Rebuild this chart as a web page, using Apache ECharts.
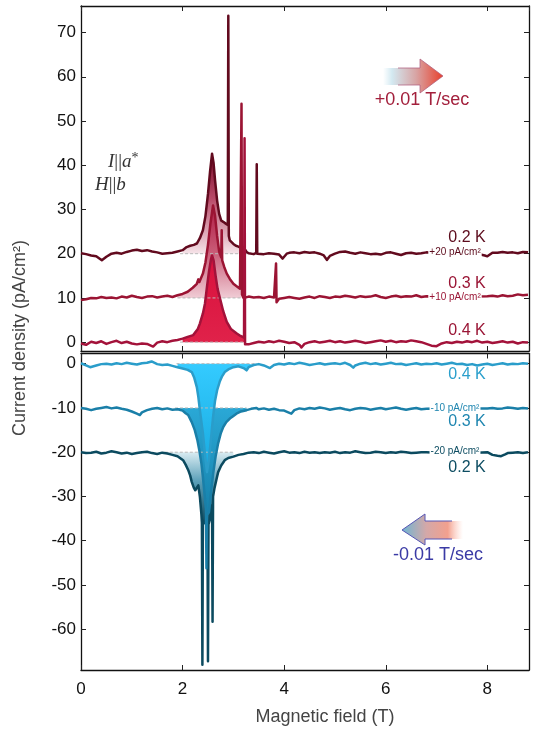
<!DOCTYPE html>
<html>
<head>
<meta charset="utf-8">
<script src="https://cdn.jsdelivr.net/npm/echarts@6/dist/echarts.min.js"></script>
<style>
html,body{margin:0;padding:0;background:#fff;}
#chart{width:534px;height:732px;}
</style>
</head>
<body>
<div id="chart"></div>
<script>
// ---------- DATA ----------
const xTicks = [0, 2, 4, 6, 8];
const yTicksUp = [0, 10, 20, 30, 40, 50, 60, 70];
const yTicksDown = [-60, -50, -40, -30, -20, -10, 0];
const offsetsUp = [20, 10, 0];        // 0.2 K, 0.3 K, 0.4 K
const offsetsDown = [0, -10, -20];    // 0.4 K, 0.3 K, 0.2 K

// sweep up (+0.01 T/sec), 0.2 K, offset +20
const up02 = [[0.0,20.1],[0.1,19.9],[0.2,19.6],[0.3,19.4],[0.41,18.5],[0.5,19.3],[0.6,20.0],[0.7,20.2],[0.8,20.0],[0.9,20.4],
[1.0,20.7],[1.1,20.9],[1.2,20.6],[1.3,20.8],[1.4,20.5],[1.5,20.3],[1.6,20.0],[1.7,20.1],[1.8,20.2],[1.9,20.5],
[2.0,20.8],[2.08,21.5],[2.15,21.8],[2.22,22.0],[2.28,22.3],[2.34,23.5],[2.4,25.3],[2.45,28.5],[2.5,33.5],[2.54,38.5],
[2.58,42.6],[2.61,40.5],[2.64,36.5],[2.68,32.0],[2.72,29.0],[2.76,27.5],[2.8,27.2],[2.85,26.8],[2.89,26.5],[2.9,73.8],
[2.91,24.0],[2.93,23.0],[3.0,22.2],[3.05,21.8],[3.1,21.6],[3.15,21.3],[3.2,21.5],[3.26,20.4],[3.3,20.1],[3.4,19.9],
[3.45,20.2],[3.46,40.2],[3.47,20.0],[3.5,19.6],[3.6,19.9],[3.7,20.1],[3.8,20.0],[3.9,19.8],[3.97,18.9],[4.05,20.0],
[4.1,20.2],[4.2,20.3],[4.3,20.1],[4.4,20.4],[4.5,20.2],[4.6,20.3],[4.7,20.0],[4.78,19.6],[4.84,18.6],[4.9,19.5],
[5.0,20.0],[5.1,20.4],[5.2,20.5],[5.3,20.2],[5.4,20.0],[5.5,20.3],[5.6,20.1],[5.7,19.9],[5.8,20.0],[5.9,19.8],
[6.0,20.2],[6.1,20.3],[6.2,20.0],[6.3,19.7],[6.4,20.1],[6.5,20.2],[6.6,20.0],[6.7,20.1],[6.8,20.3],[7.0,20.1],
[7.2,20.0],[7.4,20.2],[7.6,20.1],[7.8,20.0],[7.95,19.6],[8.0,19.4],[8.1,20.2],[8.2,20.2],[8.3,20.4],[8.4,20.2],
[8.5,20.3],[8.6,20.1],[8.7,20.4],[8.8,20.3]];

// sweep up, 0.3 K, offset +10
const up03 = [[0.0,9.5],[0.1,9.7],[0.2,10.0],[0.3,9.9],[0.4,10.2],[0.5,10.0],[0.6,10.1],[0.7,9.9],[0.8,10.3],[0.9,10.1],
[1.0,10.5],[1.1,10.2],[1.2,10.0],[1.3,10.3],[1.4,10.4],[1.5,10.1],[1.6,10.3],[1.7,10.5],[1.8,10.2],[1.9,10.6],
[2.0,10.9],[2.1,11.4],[2.2,12.3],[2.28,13.2],[2.31,14.2],[2.33,13.6],[2.4,15.5],[2.45,18.0],[2.5,22.0],[2.55,27.0],
[2.6,30.9],[2.64,28.5],[2.68,24.0],[2.72,20.5],[2.76,19.2],[2.77,25.3],[2.78,18.5],[2.82,17.0],[2.87,15.5],[2.93,14.3],
[3.0,13.2],[3.07,12.6],[3.13,12.1],[3.15,12.0],[3.16,53.9],[3.17,10.8],[3.2,10.0],[3.3,10.3],[3.4,10.1],[3.5,10.2],
[3.6,10.0],[3.7,10.3],[3.8,10.1],[3.83,10.0],[3.84,17.8],[3.85,9.0],[3.9,9.8],[4.0,10.0],[4.1,10.2],[4.2,10.0],
[4.3,9.8],[4.4,10.1],[4.5,10.3],[4.6,10.0],[4.7,10.4],[4.8,10.2],[4.9,10.0],[5.0,10.3],[5.1,10.2],[5.2,10.5],
[5.3,10.3],[5.4,10.1],[5.5,10.4],[5.6,10.2],[5.7,10.3],[5.8,10.6],[5.9,10.2],[6.0,10.0],[6.1,10.3],[6.2,10.5],
[6.3,10.2],[6.4,10.4],[6.5,10.3],[6.6,10.6],[6.7,10.2],[6.8,10.4],[7.0,10.3],[7.2,10.5],[7.4,10.2],[7.6,10.4],
[7.8,10.3],[8.0,10.4],[8.1,10.5],[8.2,10.3],[8.3,10.6],[8.4,10.4],[8.5,10.5],[8.6,10.8],[8.7,10.6],[8.8,10.7]];

// sweep up, 0.4 K, no offset
const up04 = [[0.0,-0.3],[0.1,-0.6],[0.2,0.1],[0.3,-0.2],[0.4,0.2],[0.5,-0.4],[0.6,0.0],[0.7,0.3],[0.8,-0.2],[0.9,0.1],
[1.0,-0.3],[1.1,-0.5],[1.2,-0.3],[1.3,-0.4],[1.42,-1.0],[1.5,-0.1],[1.6,0.2],[1.7,0.0],[1.8,0.3],[1.9,0.5],
[2.0,0.8],[2.1,1.2],[2.21,1.6],[2.3,3.0],[2.34,4.2],[2.4,6.5],[2.44,8.7],[2.48,12.5],[2.52,16.0],[2.56,18.8],
[2.58,19.6],[2.61,18.5],[2.65,15.0],[2.69,12.0],[2.73,10.2],[2.8,7.0],[2.87,4.6],[2.95,3.0],[3.06,2.0],[3.14,1.4],
[3.21,1.0],[3.22,46.1],[3.23,-0.5],[3.26,-0.9],[3.3,-0.5],[3.4,-0.2],[3.5,0.1],[3.6,-0.1],[3.7,0.2],[3.8,0.0],
[3.9,0.3],[4.0,0.1],[4.1,-0.2],[4.2,0.0],[4.3,-0.6],[4.34,-1.2],[4.4,-0.4],[4.5,0.0],[4.6,0.2],[4.7,-0.1],
[4.8,0.1],[4.9,0.3],[5.0,0.0],[5.1,0.2],[5.2,-0.1],[5.3,0.1],[5.4,0.3],[5.5,0.1],[5.6,-0.2],[5.7,0.0],
[5.8,0.2],[5.9,0.4],[6.0,0.1],[6.1,0.3],[6.2,0.0],[6.3,0.2],[6.4,0.1],[6.5,0.4],[6.6,0.2],[6.7,0.0],
[6.8,-0.4],[6.9,-0.8],[7.0,-0.9],[7.1,-0.3],[7.2,0.0],[7.3,-0.2],[7.4,0.1],[7.5,-0.1],[7.6,0.2],[7.7,0.0],
[7.8,0.3],[7.9,-0.1],[8.0,0.1],[8.1,-0.2],[8.2,0.0],[8.3,0.2],[8.4,-0.1],[8.5,0.1],[8.6,-0.3],[8.7,0.0],[8.8,-0.1]];

// sweep down (-0.01 T/sec), 0.4 K, no offset
const down04 = [[0.0,0.1],[0.1,-0.4],[0.18,-0.8],[0.3,-0.4],[0.4,-0.1],[0.5,0.0],[0.6,-0.2],[0.7,0.1],[0.8,-0.1],[0.9,0.2],
[1.0,0.0],[1.1,-0.2],[1.2,0.1],[1.3,0.2],[1.39,0.5],[1.5,-0.1],[1.6,-0.3],[1.7,-0.2],[1.8,-0.5],[1.9,-0.8],
[2.0,-1.1],[2.1,-1.4],[2.18,-1.9],[2.23,-3.2],[2.28,-5.3],[2.31,-7.5],[2.34,-10.5],[2.4,-15.7],[2.44,-20.5],[2.48,-24.5],
[2.52,-21.5],[2.57,-15.7],[2.6,-12.0],[2.64,-8.3],[2.68,-6.0],[2.73,-4.1],[2.78,-2.8],[2.83,-1.9],[2.9,-1.3],[3.0,-0.8],
[3.1,-0.6],[3.2,-1.0],[3.26,-1.5],[3.3,-0.8],[3.4,-0.3],[3.5,-0.1],[3.6,-0.4],[3.72,-1.0],[3.8,-0.3],[3.9,0.0],
[4.0,-0.2],[4.1,0.1],[4.2,-0.1],[4.3,0.2],[4.4,0.0],[4.5,-0.3],[4.6,-0.1],[4.7,0.1],[4.8,-0.2],[4.9,0.0],
[5.0,0.1],[5.1,-0.1],[5.2,0.2],[5.3,-0.3],[5.36,-0.9],[5.4,-0.4],[5.5,0.0],[5.6,0.2],[5.7,-0.1],[5.8,0.1],
[5.9,-0.2],[6.0,0.0],[6.1,0.2],[6.2,-0.1],[6.3,0.0],[6.4,-0.3],[6.5,-0.1],[6.6,0.1],[6.7,-0.2],[6.8,0.0],
[6.9,-0.1],[7.0,0.1],[7.1,-0.2],[7.2,0.0],[7.3,0.2],[7.4,-0.1],[7.5,0.0],[7.6,-0.3],[7.7,-0.1],[7.8,-0.4],
[7.9,-0.2],[8.0,0.0],[8.1,-0.3],[8.2,-0.1],[8.3,0.1],[8.4,-0.2],[8.5,0.0],[8.6,-0.1],[8.7,0.1],[8.8,0.0]];

// sweep down, 0.3 K, offset -10
const down03 = [[0.0,-10.0],[0.1,-10.2],[0.2,-10.5],[0.3,-10.2],[0.4,-10.0],[0.5,-9.8],[0.6,-10.1],[0.7,-9.9],[0.8,-10.2],[0.9,-10.4],
[1.0,-10.8],[1.1,-11.3],[1.16,-11.6],[1.2,-11.0],[1.3,-10.5],[1.4,-10.2],[1.5,-10.0],[1.6,-10.3],[1.7,-10.1],[1.8,-10.4],
[1.9,-10.3],[2.0,-10.6],[2.06,-11.2],[2.11,-11.6],[2.18,-13.2],[2.24,-15.0],[2.29,-17.2],[2.33,-19.6],[2.37,-22.5],[2.4,-25.6],
[2.44,-30.5],[2.46,-33.0],[2.47,-46.2],[2.48,-34.2],[2.52,-33.5],[2.56,-29.0],[2.6,-25.0],[2.65,-21.0],[2.7,-18.0],[2.75,-15.8],
[2.8,-14.3],[2.86,-13.2],[2.93,-12.4],[3.0,-11.8],[3.06,-11.3],[3.15,-10.8],[3.26,-10.5],[3.35,-10.2],[3.45,-10.0],[3.5,-10.3],
[3.6,-10.1],[3.7,-10.4],[3.8,-10.2],[3.9,-10.5],[4.0,-10.6],[4.08,-11.0],[4.14,-11.3],[4.2,-10.5],[4.3,-10.1],[4.4,-10.3],
[4.5,-10.0],[4.6,-10.2],[4.7,-9.9],[4.8,-10.1],[4.9,-10.4],[5.0,-10.2],[5.1,-10.0],[5.2,-10.3],[5.3,-10.5],[5.4,-10.2],
[5.5,-10.0],[5.6,-10.1],[5.7,-10.4],[5.8,-10.2],[5.9,-10.0],[6.0,-10.3],[6.1,-10.1],[6.2,-9.9],[6.3,-10.2],[6.4,-10.4],
[6.5,-10.2],[6.6,-10.0],[6.7,-10.3],[6.8,-10.2],[7.0,-10.1],[7.2,-10.3],[7.4,-10.0],[7.6,-10.2],[7.8,-10.1],[8.0,-10.1],
[8.1,-10.0],[8.2,-10.2],[8.3,-10.1],[8.4,-9.9],[8.5,-10.0],[8.6,-10.2],[8.7,-10.0],[8.8,-10.1]];

// sweep down, 0.2 K, offset -20
const down02 = [[0.0,-20.0],[0.1,-20.2],[0.2,-20.1],[0.3,-19.9],[0.4,-20.3],[0.5,-20.1],[0.6,-19.8],[0.7,-20.0],[0.8,-20.3],[0.9,-20.1],
[1.0,-20.4],[1.1,-20.2],[1.2,-20.0],[1.3,-19.9],[1.4,-20.2],[1.5,-20.4],[1.6,-20.1],[1.7,-20.3],[1.8,-20.6],[1.9,-20.9],
[2.01,-21.8],[2.06,-22.8],[2.11,-24.0],[2.15,-25.3],[2.18,-26.7],[2.22,-28.0],[2.25,-28.6],[2.28,-28.4],[2.31,-27.5],[2.34,-30.0],
[2.37,-34.0],[2.38,-36.0],[2.39,-68.0],[2.4,-35.5],[2.44,-36.0],[2.49,-36.5],[2.5,-67.2],[2.51,-36.3],[2.54,-35.0],[2.57,-32.5],
[2.58,-32.0],[2.59,-58.3],[2.6,-30.0],[2.63,-28.0],[2.67,-26.0],[2.7,-24.5],[2.76,-23.0],[2.83,-21.8],[2.9,-21.3],[3.0,-21.0],
[3.1,-20.6],[3.2,-20.4],[3.3,-20.1],[3.4,-20.0],[3.5,-20.2],[3.6,-19.9],[3.7,-20.1],[3.8,-20.3],[3.9,-20.0],[4.0,-19.8],
[4.1,-20.1],[4.2,-20.0],[4.3,-20.2],[4.4,-19.9],[4.5,-20.1],[4.6,-20.0],[4.7,-20.2],[4.8,-20.0],[4.9,-20.1],[5.0,-19.9],
[5.1,-20.2],[5.2,-20.0],[5.3,-20.1],[5.4,-19.8],[5.5,-20.0],[5.6,-20.2],[5.7,-20.1],[5.8,-19.9],[5.9,-20.0],[6.0,-20.2],
[6.1,-20.0],[6.2,-20.1],[6.3,-19.9],[6.4,-20.0],[6.5,-20.2],[6.6,-20.1],[6.7,-20.0],[6.8,-20.0],[7.0,-20.1],[7.2,-20.0],
[7.4,-20.2],[7.6,-20.0],[7.8,-20.1],[8.0,-20.0],[8.1,-20.6],[8.2,-20.8],[8.27,-20.9],[8.35,-20.5],[8.4,-20.2],[8.5,-20.1],
[8.6,-20.0],[8.7,-20.2],[8.8,-20.0]];

// field ranges of the shaded peaks (T)
const fillRangeUp = [[1.95, 3.36], [1.9, 3.16], [1.95, 3.22]];
const fillRangeDown = [[1.88, 3.45], [1.85, 3.26], [1.65, 3.0]];
// ---------- END DATA ----------

const FONT = '"Liberation Sans", Arial, Helvetica, sans-serif';
const dom = document.getElementById('chart');
const chart = echarts.init(dom, null, {renderer: 'canvas'});

const axisLine = {show: true, onZero: false, lineStyle: {color: '#111', width: 1.3}};
const tickIn = {show: true, inside: true, length: 5, lineStyle: {color: '#222', width: 1}};

function xAx(gridIndex, position, showLabel) {
  return {
    type: 'value', gridIndex, position, min: 0, max: 8.82, interval: 2,
    axisLine, axisTick: tickIn, splitLine: {show: false},
    axisLabel: {show: showLabel, color: '#111', fontSize: 17, fontFamily: FONT, margin: 11,
      showMaxLabel: false}
  };
}
function yAx(gridIndex, position, min, max, ticks, showLabel) {
  return {
    type: 'value', gridIndex, position, min, max,
    axisLine, splitLine: {show: false},
    axisTick: Object.assign({}, tickIn, {customValues: ticks}),
    axisLabel: {show: showLabel, customValues: ticks, color: '#111', fontSize: 17, fontFamily: FONT, margin: 5}
  };
}

function subset(data, r) { return data.filter(p => p[0] >= r[0] && p[0] <= r[1]); }

const upData = [up02, up03, up04];
const downData = [down04, down03, down02];
const upColors = ['#620a1e', '#9b1433', '#a3123a'];
const downColors = ['#2a9dca', '#1a7fa8', '#0b4a5f'];

const series = [];
// fills (top)
upData.forEach((d, i) => {
  series.push({type: 'line', xAxisIndex: 0, yAxisIndex: 0, data: subset(d, fillRangeUp[i]),
    showSymbol: false, symbol: 'none', silent: true, z: 1,
    lineStyle: {width: 0, opacity: 0}, areaStyle: {origin: offsetsUp[i], opacity: 1, color: '#ccc'}});
});
downData.slice().reverse().forEach((d, j) => {
  const i = 2 - j;
  series.push({type: 'line', xAxisIndex: 2, yAxisIndex: 2, data: subset(d, fillRangeDown[i]),
    showSymbol: false, symbol: 'none', silent: true, z: 1,
    lineStyle: {width: 0, opacity: 0}, areaStyle: {origin: offsetsDown[i], opacity: 1, color: '#ccc'}});
});
// dashed baselines under the shaded peaks
upData.forEach((d, i) => {
  series.push({type: 'line', xAxisIndex: 0, yAxisIndex: 0, silent: true, z: 2, symbol: 'none',
    data: [[fillRangeUp[i][0], offsetsUp[i]], [fillRangeUp[i][1], offsetsUp[i]]],
    lineStyle: {width: 1, type: [3, 2], color: '#b8b8b8'}});
});
downData.forEach((d, i) => {
  series.push({type: 'line', xAxisIndex: 2, yAxisIndex: 2, silent: true, z: 2, symbol: 'none',
    data: [[fillRangeDown[i][0], offsetsDown[i]], [fillRangeDown[i][1], offsetsDown[i]]],
    lineStyle: {width: 1, type: [3, 2], color: '#b8b8b8'}});
});
// curves
upData.forEach((d, i) => {
  series.push({type: 'line', xAxisIndex: 0, yAxisIndex: 0, data: d, showSymbol: false, symbol: 'none',
    z: 3, lineStyle: {width: 2.5, color: upColors[i], join: 'round'}});
});
downData.slice().reverse().forEach((d, j) => {
  const i = 2 - j;
  series.push({type: 'line', xAxisIndex: 2, yAxisIndex: 2, data: d, showSymbol: false, symbol: 'none',
    z: 3, lineStyle: {width: 2.5, color: downColors[i], join: 'round'}});
});

function txt(x, y, text, size, fill, extra) {
  return Object.assign({type: 'text', x, y, z: 100,
    style: Object.assign({text, fill, font: size + 'px ' + FONT, align: 'center', verticalAlign: 'middle'}, extra || {})});
}

const graphics = [
  // axis titles
  {type: 'text', x: 20, y: 338, rotation: Math.PI / 2, z: 100,
    style: {text: 'Current density (pA/cm²)', fill: '#444', font: '18px ' + FONT, align: 'center', verticalAlign: 'middle'}},
  txt(325, 717, 'Magnetic field (T)', 18, '#444'),
  // series labels top
  txt(467, 238, '0.2 K', 16, '#5c0b1c'),
  txt(455, 252, '+20 pA/cm²', 10, '#5c0b1c', {backgroundColor: '#fff', padding: [0, 1]}),
  txt(467, 284, '0.3 K', 16, '#9a1535'),
  txt(455, 297, '+10 pA/cm²', 10, '#9a1535', {backgroundColor: '#fff', padding: [0, 1]}),
  txt(467, 331, '0.4 K', 16, '#9a1535'),
  // series labels bottom
  txt(467, 375, '0.4 K', 16, '#2a9fcc'),
  txt(455, 408, '-10 pA/cm²', 10, '#1f86b0', {backgroundColor: '#fff', padding: [0, 1]}),
  txt(467, 422, '0.3 K', 16, '#1f86b0'),
  txt(455, 451, '-20 pA/cm²', 10, '#0d4d62', {backgroundColor: '#fff', padding: [0, 1]}),
  txt(467, 468, '0.2 K', 16, '#0d4d62'),
  // sweep arrows
  {type: 'polygon', z: 100, shape: {points: [[383,68],[420,68],[420,59],[443,76],[420,93],[420,85],[383,85]]},
    style: {fill: new echarts.graphic.LinearGradient(0, 0, 1, 0, [
      {offset: 0, color: 'rgba(215,236,244,0)'}, {offset: 0.15, color: '#d3e9f1'},
      {offset: 0.55, color: '#d8a4a4'}, {offset: 1, color: '#e8402c'}])}},
  {type: 'polyline', z: 101, shape: {points: [[398,68],[420,68],[420,59],[443,76],[420,93],[420,85],[398,85]]},
    style: {stroke: 'rgba(175,95,125,0.75)', lineWidth: 1, fill: null}},
  txt(422, 100, '+0.01 T/sec', 18, '#a3203c'),
  {type: 'polygon', z: 100, shape: {points: [[402,530],[425,514],[425,521],[463,521],[463,539],[425,539],[425,545]]},
    style: {fill: new echarts.graphic.LinearGradient(0, 0, 1, 0, [
      {offset: 0, color: '#6fb5d2'}, {offset: 0.4, color: '#d4a8a8'},
      {offset: 0.75, color: '#f2a08e'}, {offset: 1, color: 'rgba(255,200,185,0)'}])}},
  {type: 'polyline', z: 101, shape: {points: [[452,521],[425,521],[425,514],[402,530],[425,545],[425,539],[452,539]]},
    style: {stroke: '#5656b5', lineWidth: 1, fill: null}},
  txt(438, 555, '-0.01 T/sec', 18, '#3a3aa5'),
  // orientation text
  {type: 'text', x: 108, y: 162, z: 100, style: {text: '{i|I}{n|||}{i|a}{s|*}', fill: '#333', verticalAlign: 'middle',
    rich: {i: {font: 'italic 19px "Liberation Serif", serif'}, n: {font: '19px "Liberation Serif", serif'},
      s: {font: '14px "Liberation Serif", serif', padding: [0, 0, 8, 0]}}}},
  {type: 'text', x: 95, y: 185, z: 100, style: {text: '{i|H}{n|||}{i|b}', fill: '#333', verticalAlign: 'middle',
    rich: {i: {font: 'italic 19px "Liberation Serif", serif'}, n: {font: '19px "Liberation Serif", serif'}}}}
];

const option = {
  animation: false,
  backgroundColor: '#fff',
  grid: [
    {left: 81, top: 6, width: 448, height: 345, containLabel: false},
    {left: 81, top: 353.5, width: 448, height: 316.5, containLabel: false}
  ],
  xAxis: [xAx(0, 'bottom', false), xAx(0, 'top', false), xAx(1, 'bottom', true), xAx(1, 'top', false)],
  yAxis: [
    yAx(0, 'left', -2, 76, yTicksUp, true), yAx(0, 'right', -2, 76, yTicksUp, false),
    yAx(1, 'left', -69.2, 2.3, yTicksDown, true), yAx(1, 'right', -69.2, 2.3, yTicksDown, false)
  ],
  series,
  graphic: graphics
};
chart.setOption(option);

// gradients of the shaded peaks, anchored to data values via the chart's own scales
function vGrad(seriesIndex, vTop, vBot, stops) {
  const yTop = chart.convertToPixel({seriesIndex}, [2.5, vTop])[1];
  const yBot = chart.convertToPixel({seriesIndex}, [2.5, vBot])[1];
  return new echarts.graphic.LinearGradient(0, yTop, 0, yBot,
    stops.map(s => ({offset: s[0], color: s[1]})), true);
}
const fillStyles = [
  vGrad(0, 42.6, 20, [[0, '#7a0c29'], [0.45, '#b84a68'], [1, '#f6e4e9']]),
  vGrad(1, 31, 10, [[0, '#b01c44'], [0.5, '#c95a76'], [1, '#f0ccd5']]),
  vGrad(2, 20, 0, [[0, '#d8103c'], [1, '#e0224a']]),
  vGrad(3, -20, -36.5, [[0, '#d9ecf2'], [0.4, '#5a9fb8'], [1, '#0a4457']]),
  vGrad(4, -10, -35, [[0, '#2aa8d6'], [1, '#157fa8']]),
  vGrad(5, 0, -24.5, [[0, '#34cbff'], [1, '#18a9df']])
];
chart.setOption({series: fillStyles.map(c => ({areaStyle: {color: c}}))});
</script>
</body>
</html>
